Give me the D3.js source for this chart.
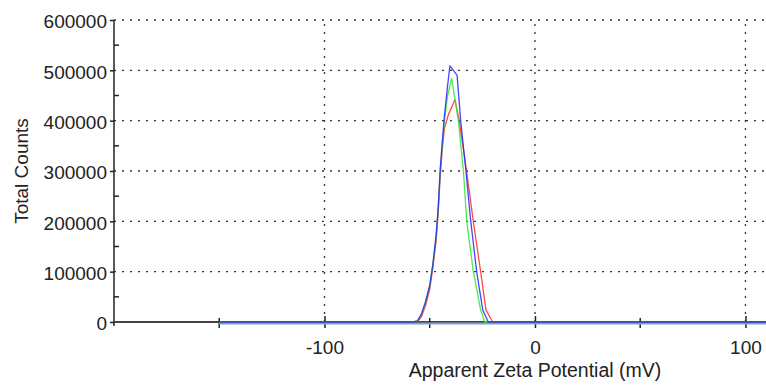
<!DOCTYPE html>
<html>
<head>
<meta charset="utf-8">
<script src="https://cdn.jsdelivr.net/npm/d3@7"></script>
<style>
  body { margin: 0; background: #fff; }
  text { font-family: "Liberation Sans", Arial, sans-serif; fill: #222; }
</style>
</head>
<body>
<div id="chart"></div>
<script>
// dimensions
var width = 766;
var height = 389;
var margin = { left: 114, top: 20, bottom: 67 };

// data: zeta potential (mV) and total counts for 3 runs
var redMv = [-150, -58, -55.5, -54, -52, -50, -48.5, -47, -46, -45, -44, -43, -41.2, -38, -36, -32.5, -29.3, -25.8, -23.3, -20.1, 110];
var redCounts = [0, 0, 2000, 10000, 32000, 65000, 108000, 160000, 215000, 290000, 345000, 385000, 411000, 442000, 400000, 300000, 200000, 100000, 24000, 0, 0];

var greenMv = [-150, -58, -56, -54, -52, -50, -48.5, -47, -46, -45, -44, -43, -41.5, -39.6, -36.4, -34, -32.4, -29.3, -25.8, -23.8, 110];
var greenCounts = [0, 0, 1500, 15000, 40000, 72000, 115000, 170000, 225000, 300000, 355000, 400000, 450000, 484000, 400000, 300000, 200000, 100000, 24000, 0, 0];

var blueMv = [-150, -58, -56, -54, -52, -50, -48.5, -47, -46, -45, -44, -43, -41.5, -40.4, -37, -35.3, -32.8, -30.5, -27.7, -24.8, -22.2, 110];
var blueCounts = [0, 0, 1500, 15000, 40000, 72000, 115000, 170000, 225000, 305000, 360000, 410000, 470000, 509000, 490000, 400000, 300000, 200000, 100000, 24000, 0, 0];

var yTicks = [0, 100000, 200000, 300000, 400000, 500000, 600000];
var yMinor = [50000, 150000, 250000, 350000, 450000, 550000];
var xTicks = [-100, 0, 100];
var xMinor = [-150, -50, 50];

var svg = d3.select('#chart')
    .append('svg')
    .attr('width', width)
    .attr('height', height);

var x = d3.scaleLinear()
    .domain([-200, 110])
    .range([margin.left, 766.5]);
var y = d3.scaleLinear()
    .domain([0, 600000])
    .range([height - margin.bottom, margin.top]);

var y0 = y(0);

// grid
svg.append('g').selectAll('line')
    .data(yTicks.slice(1))
    .enter().append('line')
    .attr('x1', margin.left).attr('x2', width)
    .attr('y1', d => y(d)).attr('y2', d => y(d))
    .attr('stroke', '#333').attr('stroke-width', 1.3)
    .attr('stroke-dasharray', '2,6');
svg.append('g').selectAll('line')
    .data(xTicks)
    .enter().append('line')
    .attr('x1', d => x(d)).attr('x2', d => x(d))
    .attr('y1', y0).attr('y2', margin.top)
    .attr('stroke', '#333').attr('stroke-width', 1.3)
    .attr('stroke-dasharray', '2,6');

// y axis
var yAxis = d3.axisLeft(y)
    .tickValues(yTicks)
    .tickFormat(d => String(d))
    .tickSize(4)
    .tickPadding(3);
var gY = svg.append('g')
    .attr('transform', 'translate(' + margin.left + ',0)')
    .call(yAxis);
gY.select('.domain').attr('stroke', '#222').attr('stroke-width', 1.5).attr('d', 'M0,' + margin.top + 'V' + (y0 + 4));
gY.selectAll('.tick line').attr('stroke', '#222').attr('stroke-width', 1.5);
gY.selectAll('.tick text').attr('font-size', 19).attr('dy', '0.42em').attr('fill', '#222');
gY.selectAll('.minor')
    .data(yMinor)
    .enter().append('line')
    .attr('class', 'minor')
    .attr('x1', 0).attr('x2', 5)
    .attr('y1', d => y(d)).attr('y2', d => y(d))
    .attr('stroke', '#222').attr('stroke-width', 1.5);

// x axis
var xAxis = d3.axisBottom(x)
    .tickValues(xTicks)
    .tickFormat(d => String(d))
    .tickSize(6)
    .tickPadding(6);
var gX = svg.append('g')
    .attr('transform', 'translate(0,' + y0 + ')')
    .call(xAxis);
gX.select('.domain').attr('stroke', '#444').attr('stroke-width', 1.8).attr('d', 'M' + margin.left + ',0H' + width);
gX.selectAll('.tick line').attr('stroke', '#222').attr('stroke-width', 1.5).attr('y1', -6);
gX.selectAll('.tick text').attr('font-size', 19).attr('y', 18.5).attr('fill', '#222');
gX.selectAll('.minor')
    .data(xMinor)
    .enter().append('line')
    .attr('class', 'minor')
    .attr('x1', d => x(d)).attr('x2', d => x(d))
    .attr('y1', -4).attr('y2', 6)
    .attr('stroke', '#222').attr('stroke-width', 1.5);

// axis titles
svg.append('text')
    .attr('x', x(0))
    .attr('y', 377)
    .attr('text-anchor', 'middle')
    .attr('font-size', 19.5)
    .text('Apparent Zeta Potential (mV)');
svg.append('text')
    .attr('transform', 'translate(28,171) rotate(-90)')
    .attr('text-anchor', 'middle')
    .attr('font-size', 19)
    .text('Total Counts');

// curves
var line = d3.line()
    .x(d => x(d[0]))
    .y(d => y(d[1]));

var series = [
    { mv: redMv, counts: redCounts, color: '#ff2a2a' },
    { mv: greenMv, counts: greenCounts, color: '#2ee82e' },
    { mv: blueMv, counts: blueCounts, color: '#2626ff' }
];

// flat baseline sits just under the axis, drawn light blue
svg.append('line')
    .attr('x1', x(-150)).attr('x2', width)
    .attr('y1', y0 + 1.5).attr('y2', y0 + 1.5)
    .attr('stroke', '#7e9fd6').attr('stroke-width', 2);

svg.append('g').selectAll('path')
    .data(series)
    .enter().append('path')
    .attr('d', s => line(d3.zip(s.mv, s.counts)))
    .attr('fill', 'none')
    .attr('stroke', s => s.color)
    .attr('stroke-width', 1.3)
    .attr('stroke-opacity', 0.85)
    .attr('stroke-linejoin', 'round');
</script>
</body>
</html>
